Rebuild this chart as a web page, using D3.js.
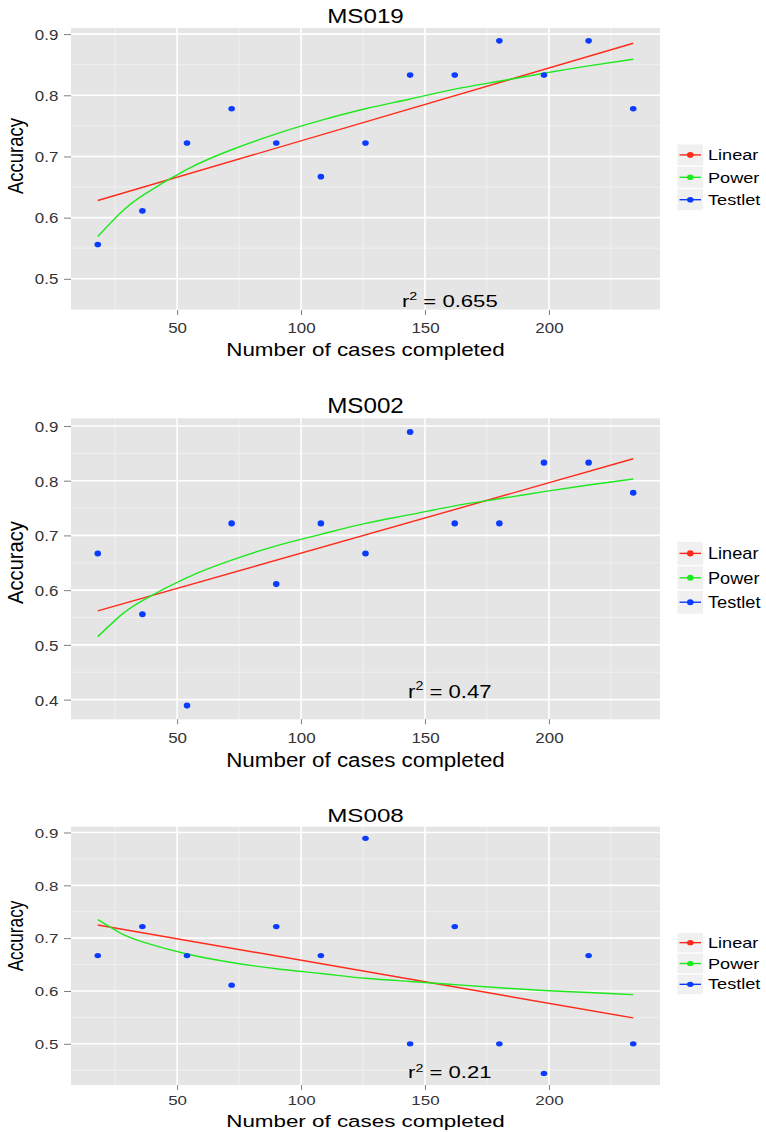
<!DOCTYPE html>
<html><head><meta charset="utf-8">
<script src="https://cdn.jsdelivr.net/npm/d3@7/dist/d3.min.js"></script>
<style>
body{margin:0;background:#fff}
svg{display:block}
text{font-family:"Liberation Sans",Arial,Helvetica,sans-serif}
</style>
</head><body>
<svg id="chart" width="766" height="1132"></svg>
<script>
// ---------------- DATA ----------------
const cases = [18, 36, 54, 72, 90, 108, 126, 144, 162, 180, 198, 216, 234];
const panelNames = ["MS019", "MS002", "MS008"];
const seriesNames = ["Linear", "Power", "Testlet"];

const testletMS019 = [0.556, 0.611, 0.722, 0.778, 0.722, 0.667, 0.722, 0.833, 0.833, 0.889, 0.833, 0.889, 0.778];
const testletMS002 = [0.667, 0.556, 0.389, 0.722, 0.611, 0.722, 0.667, 0.889, 0.722, 0.722, 0.833, 0.833, 0.778];
const testletMS008 = [0.667, 0.722, 0.667, 0.611, 0.722, 0.667, 0.889, 0.500, 0.722, 0.500, 0.444, 0.667, 0.500];

// linear fit read at first and last case
const linearMS019 = [0.628, 0.885];
const linearMS002 = [0.562, 0.840];
const linearMS008 = [0.725, 0.549];

// power fit read at these x positions
const powerCases = [18, 27, 36, 54, 72, 90, 108, 126, 144, 162, 180, 198, 216, 234];
const powerMS019 = [0.569, 0.607, 0.636, 0.679, 0.711, 0.737, 0.759, 0.778, 0.794, 0.810, 0.823, 0.836, 0.848, 0.859];
const powerMS002 = [0.515, 0.553, 0.581, 0.623, 0.655, 0.681, 0.702, 0.722, 0.738, 0.754, 0.767, 0.780, 0.792, 0.803];
const powerMS008 = [0.735, 0.710, 0.693, 0.670, 0.654, 0.642, 0.633, 0.624, 0.618, 0.612, 0.606, 0.601, 0.597, 0.593];

const r2Labels = ["0.655", "0.47", "0.21"];

const xTicks = [50, 100, 150, 200];
const xMinor = [25, 75, 125, 175, 225];
const yTicksMS019 = [0.5, 0.6, 0.7, 0.8, 0.9];
const yTicksMS002 = [0.4, 0.5, 0.6, 0.7, 0.8, 0.9];
const yTicksMS008 = [0.5, 0.6, 0.7, 0.8, 0.9];

const testletSets = [testletMS019, testletMS002, testletMS008];
const linearSets = [linearMS019, linearMS002, linearMS008];
const powerSets = [powerMS019, powerMS002, powerMS008];
const yTickSets = [yTicksMS019, yTicksMS002, yTicksMS008];

// ---------------- STYLE / LAYOUT ----------------
const colors = {Linear: "#ff2a1a", Power: "#1ee81e", Testlet: "#0a3cff"};
const FONT_SX = 1.21;
const layout = [
  {fs: 1.00, title: 22.7, top: 28,    bottom: 310,    tick: 333,    xtitle: 356,    ytitle: 156,   legend: 177.3, r2y: 0.4545, yDomain: [0.449, 0.910]},
  {fs: 1.09, title: 412.7, top: 418.3, bottom: 719.3, tick: 743,    xtitle: 766.5,  ytitle: 562.5, legend: 577.8, r2y: 0.403,  yDomain: [0.364, 0.914]},
  {fs: 0.93, title: 822,  top: 826.7, bottom: 1085,   tick: 1105.5, xtitle: 1126.7, ytitle: 936,   legend: 963.5, r2y: 0.4346, yDomain: [0.422, 0.911]}
];
const plotLeft = 71, plotRight = 660;

const svg = d3.select("#chart");
svg.append("rect").attr("width", 766).attr("height", 1132).attr("fill", "#fff");

function stretchedText(parent, x, y, str, size, sx, anchor, fill) {
  const g = parent.append("g").attr("transform", `translate(${x},${y}) scale(${sx},1)`);
  return g.append("text").attr("x", 0).attr("y", 0)
    .attr("text-anchor", anchor || "middle")
    .attr("font-size", size).attr("fill", fill || "#000").text(str);
}

panelNames.forEach((name, i) => {
  const L = layout[i];
  const sx = FONT_SX / L.fs;
  const g = svg.append("g");
  const x = d3.scaleLinear().domain([7.2, 244.8]).range([plotLeft, plotRight]);
  const y = d3.scaleLinear().domain(L.yDomain).range([L.bottom, L.top]);
  const yTicks = yTickSets[i];

  // panel background
  g.append("rect").attr("x", plotLeft).attr("y", L.top)
    .attr("width", plotRight - plotLeft).attr("height", L.bottom - L.top)
    .attr("fill", "#e5e5e5");

  // minor grid
  const yMinor = [];
  yTicks.forEach(t => { yMinor.push(+(t - 0.05).toFixed(3)); });
  yMinor.push(+(yTicks[yTicks.length - 1] + 0.05).toFixed(3));
  const yMinorIn = yMinor.filter(v => v >= L.yDomain[0] && v <= L.yDomain[1]);
  g.selectAll(".xminor").data(xMinor).enter().append("line")
    .attr("x1", d => x(d)).attr("x2", d => x(d)).attr("y1", L.top).attr("y2", L.bottom)
    .attr("stroke", "#f2f2f2").attr("stroke-width", 0.9);
  g.selectAll(".yminor").data(yMinorIn).enter().append("line")
    .attr("x1", plotLeft).attr("x2", plotRight).attr("y1", d => y(d)).attr("y2", d => y(d))
    .attr("stroke", "#f2f2f2").attr("stroke-width", 0.9);
  // major grid
  g.selectAll(".xmajor").data(xTicks).enter().append("line")
    .attr("x1", d => x(d)).attr("x2", d => x(d)).attr("y1", L.top).attr("y2", L.bottom)
    .attr("stroke", "#fff").attr("stroke-width", 1.6);
  g.selectAll(".ymajor").data(yTicks).enter().append("line")
    .attr("x1", plotLeft).attr("x2", plotRight).attr("y1", d => y(d)).attr("y2", d => y(d))
    .attr("stroke", "#fff").attr("stroke-width", 1.6);

  // linear fit
  const lin = linearSets[i];
  const lineGen = d3.line().x(d => x(d[0])).y(d => y(d[1]));
  g.append("path")
    .attr("d", lineGen([[cases[0], lin[0]], [cases[cases.length - 1], lin[1]]]))
    .attr("fill", "none").attr("stroke", colors.Linear).attr("stroke-width", 1.4);
  // power fit
  const pw = powerSets[i];
  const curveGen = d3.line().x(d => x(d[0])).y(d => y(d[1])).curve(d3.curveNatural);
  g.append("path")
    .attr("d", curveGen(powerCases.map((c, k) => [c, pw[k]])))
    .attr("fill", "none").attr("stroke", colors.Power).attr("stroke-width", 1.4);

  // testlet points
  const pts = testletSets[i];
  g.selectAll(".pt").data(cases.map((c, k) => [c, pts[k]])).enter().append("ellipse")
    .attr("cx", d => x(d[0])).attr("cy", d => y(d[1]))
    .attr("rx", 3.3).attr("ry", 2.8 * L.fs).attr("fill", colors.Testlet);

  // r^2 annotation
  const r2g = g.append("g").attr("transform", `translate(${x(160)},${y(L.r2y)}) scale(${1.3 / L.fs},1)`);
  const r2t = r2g.append("text").attr("text-anchor", "middle").attr("font-size", 17 * L.fs).attr("fill", "#000");
  r2t.append("tspan").text("r");
  r2t.append("tspan").attr("dy", -0.42 * 17 * L.fs).attr("font-size", 11 * L.fs).text("2");
  r2t.append("tspan").attr("dy", 0.42 * 17 * L.fs).text(" = " + r2Labels[i]);

  // axes
  const xAxis = g.append("g").attr("transform", `translate(0,${L.bottom})`)
    .call(d3.axisBottom(x).tickValues(xTicks).tickSize(5).tickFormat(d3.format("d")));
  xAxis.select(".domain").remove();
  xAxis.selectAll(".tick line").attr("stroke", "#7f7f7f").attr("stroke-width", 1);
  xAxis.selectAll(".tick text")
    .attr("y", L.tick - L.bottom).attr("dy", null)
    .attr("font-size", 14 * L.fs).attr("fill", "#333")
    .attr("font-family", '"Liberation Sans",Arial,Helvetica,sans-serif')
    .attr("transform", `scale(${sx},1)`);

  const yAxis = g.append("g").attr("transform", `translate(${plotLeft},0)`)
    .call(d3.axisLeft(y).tickValues(yTicks).tickSize(7).tickFormat(d3.format(".1f")));
  yAxis.select(".domain").remove();
  yAxis.selectAll(".tick line").attr("stroke", "#7f7f7f").attr("stroke-width", 1);
  yAxis.selectAll(".tick text")
    .attr("x", -12.7 / sx).attr("dy", "0.36em")
    .attr("font-size", 14 * L.fs).attr("fill", "#333")
    .attr("font-family", '"Liberation Sans",Arial,Helvetica,sans-serif')
    .attr("transform", `scale(${sx},1)`);

  // titles
  stretchedText(g, (plotLeft + plotRight) / 2, L.title, name, 20 * L.fs, sx, "middle");
  stretchedText(g, (plotLeft + plotRight) / 2, L.xtitle, "Number of cases completed", 18.5 * L.fs, sx, "middle");
  const yt = g.append("g").attr("transform", `translate(22.7,${L.ytitle}) scale(${sx},1) rotate(-90)`);
  yt.append("text").attr("text-anchor", "middle").attr("font-size", 18.5 * L.fs).attr("fill", "#000").text("Accuracy");

  // legend
  const keyH = 21 * L.fs, gap = 1.4 * L.fs, step = keyH + gap;
  seriesNames.forEach((s, k) => {
    const cy = L.legend + (k - 1) * step;
    g.append("rect").attr("x", 677.5).attr("y", cy - keyH / 2).attr("width", 25.5).attr("height", keyH)
      .attr("fill", "#f0f0f0");
    g.append("line").attr("x1", 679.5).attr("x2", 701).attr("y1", cy).attr("y2", cy)
      .attr("stroke", colors[s]).attr("stroke-width", 1.4);
    g.append("ellipse").attr("cx", 690.3).attr("cy", cy).attr("rx", 3.3).attr("ry", 2.8 * L.fs)
      .attr("fill", colors[s]);
    stretchedText(g, 708, cy + 0.36 * 15 * L.fs, s, 15 * L.fs, sx, "start");
  });
});
</script>
</body></html>
